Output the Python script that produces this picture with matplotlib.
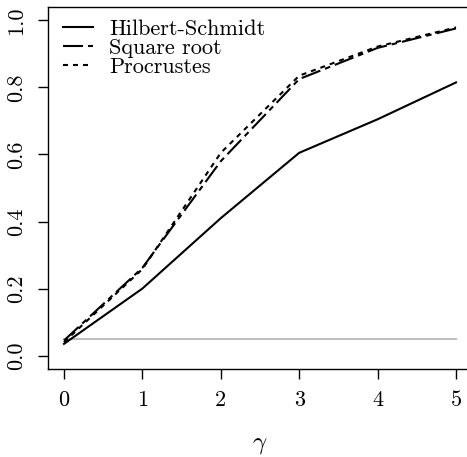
import matplotlib
matplotlib.use("Agg")
import matplotlib.pyplot as plt
from matplotlib.lines import Line2D

plt.rcParams['font.family'] = ['cmr10', 'DejaVu Serif']
plt.rcParams['mathtext.fontset'] = 'cm'
plt.rcParams['lines.scale_dashes'] = False

gamma = [0, 1, 2, 3, 4, 5]
hilbert_schmidt = [0.035, 0.200, 0.410, 0.605, 0.705, 0.815]
square_root = [0.045, 0.262, 0.580, 0.825, 0.918, 0.976]
procrustes = [0.040, 0.258, 0.605, 0.835, 0.922, 0.979]
nominal_level = 0.05
series_names = ["Hilbert-Schmidt", "Square root", "Procrustes"]
xticks = [0, 1, 2, 3, 4, 5]
yticks = [0.0, 0.2, 0.4, 0.6, 0.8, 1.0]
ytick_labels = ["0.0", "0.2", "0.4", "0.6", "0.8", "1.0"]

W, H = 467, 457
fig = plt.figure(figsize=(W / 100, H / 100), dpi=100)
left, right, top, bottom = 48.3, 471.7, 7, 369
ax = fig.add_axes([left / W, 1 - bottom / H, (right - left) / W, (bottom - top) / H])
ax.set_xlim(-0.2, 5.2)
ax.set_ylim(-0.04, 1.04)

lw = 1.5
sq_dash = (14.4, 3.6, 4.0, 3.6)
pr_dash = (3.6, 3.6)
ax.plot([gamma[0], gamma[-1]], [nominal_level, nominal_level], color='#BEBEBE', lw=lw)
ax.plot(gamma, hilbert_schmidt, color='black', lw=lw, solid_joinstyle='round')
ax.plot(gamma, square_root, color='black', lw=lw, dashes=sq_dash)
ax.plot(gamma, procrustes, color='black', lw=lw, dashes=pr_dash)

for s in ax.spines.values():
    s.set_linewidth(1.0)

ax.set_xticks(xticks)
ax.set_xticklabels([str(x) for x in xticks])
ax.set_yticks(yticks)
ax.set_yticklabels(ytick_labels, rotation=90, va='center')
ax.tick_params(axis='both', direction='out', length=7.2, width=1.0, labelsize=16)
ax.tick_params(axis='x', pad=8.5)
ax.tick_params(axis='y', pad=8.5)
ax.set_xlabel(r'$\gamma$', fontsize=18, labelpad=17)

handles = [
    Line2D([], [], color='black', lw=lw),
    Line2D([], [], color='black', lw=lw, dashes=sq_dash),
    Line2D([], [], color='black', lw=lw, dashes=pr_dash),
]
leg = ax.legend(handles, series_names, loc='upper left', frameon=False, fontsize=16,
                handlelength=1.35, handletextpad=0.72, labelspacing=-0.02,
                borderaxespad=0.0, borderpad=0.0,
                bbox_to_anchor=((63 - 48.3) / (right - left), 1 - (19 - top) / (bottom - top)))

fig.savefig('out.png', dpi=100)
